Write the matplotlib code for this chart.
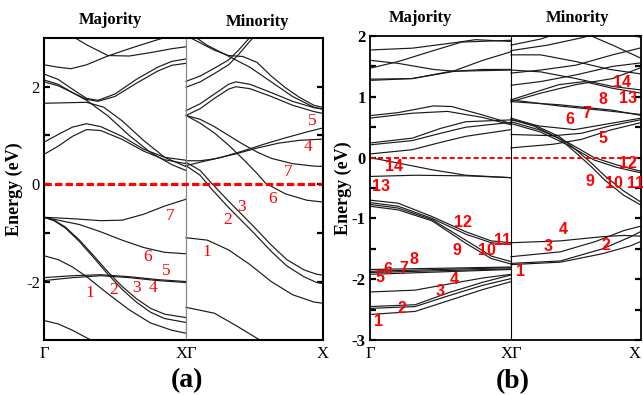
import matplotlib
matplotlib.use('Agg')
import numpy as np
import matplotlib.pyplot as plt
from matplotlib.ticker import FixedLocator

SERIF = ['Liberation Serif', 'DejaVu Serif']
SANS = ['Liberation Sans', 'DejaVu Sans']

# ---------------- panel (a) ----------------
# majority spin, k from Gamma (0) to X (1)
a_maj_cond = [
    ([0.15, 0.22, 0.3, 0.45, 0.6, 0.75, 0.9, 1.0], [3.3, 3.0, 2.86, 2.64, 2.63, 2.7, 2.78, 2.82]),
    ([0, 0.1, 0.19, 0.3, 0.44, 0.6, 0.75, 0.84, 0.9], [2.45, 2.40, 2.37, 2.45, 2.62, 2.78, 2.92, 3.0, 3.05]),
    ([0, 0.1, 0.2, 0.3, 0.38, 0.5, 0.65, 0.8, 0.9, 1.0], [2.26, 2.15, 1.95, 1.76, 1.72, 1.85, 2.15, 2.40, 2.52, 2.57]),
    ([0, 0.1, 0.2, 0.3, 0.38, 0.5, 0.65, 0.8, 0.9, 1.0], [2.14, 2.05, 1.88, 1.74, 1.70, 1.80, 2.07, 2.32, 2.44, 2.48]),
    ([0, 0.1, 0.2, 0.3, 0.45, 0.6, 0.75, 0.9, 1.0], [2.10, 2.02, 1.88, 1.72, 1.40, 1.00, 0.65, 0.40, 0.28]),
    ([0, 0.15, 0.3, 0.42, 0.55, 0.7, 0.85, 1.0], [1.66, 1.67, 1.68, 1.58, 1.30, 0.90, 0.55, 0.36]),
    ([0, 0.1, 0.2, 0.3, 0.4, 0.55, 0.7, 0.85, 1.0], [0.86, 1.02, 1.17, 1.24, 1.18, 0.98, 0.72, 0.55, 0.49]),
    ([0, 0.1, 0.2, 0.3, 0.4, 0.55, 0.7, 0.85, 1.0], [0.61, 0.78, 0.98, 1.12, 1.10, 0.92, 0.68, 0.50, 0.42]),
]
a_maj_val = [
    ([0, 0.2, 0.4, 0.55, 0.7, 0.85, 1.0], [-0.68, -0.71, -0.75, -0.74, -0.62, -0.45, -0.31]),
    ([0, 0.1, 0.25, 0.4, 0.55, 0.7, 0.85, 1.0], [-0.68, -0.74, -0.83, -0.98, -1.15, -1.30, -1.40, -1.43]),
    ([0, 0.07, 0.15, 0.25, 0.35, 0.45, 0.55, 0.65, 0.75, 0.85, 1.0],
     [-0.68, -0.74, -0.88, -1.15, -1.47, -1.80, -2.10, -2.35, -2.55, -2.67, -2.74]),
    ([0, 0.07, 0.15, 0.25, 0.35, 0.45, 0.55, 0.65, 0.75, 0.85, 1.0],
     [-0.68, -0.75, -0.90, -1.18, -1.51, -1.85, -2.16, -2.42, -2.63, -2.76, -2.84]),
    ([0, 0.1, 0.2, 0.3, 0.45, 0.6, 0.75, 0.9, 1.0], [-1.47, -1.55, -1.70, -1.90, -2.25, -2.58, -2.85, -3.0, -3.06]),
    ([0, 0.2, 0.4, 0.6, 0.8, 1.0], [-1.92, -1.88, -1.86, -1.90, -1.96, -2.00]),
    ([0, 0.2, 0.4, 0.6, 0.8, 1.0], [-1.98, -1.92, -1.88, -1.92, -1.98, -2.02]),
    ([0, 0.1, 0.2, 0.33], [-2.80, -2.87, -3.0, -3.2]),
]
# minority spin
a_min_cond = [
    ([0, 0.1, 0.2, 0.3, 0.37, 0.44, 0.5], [2.11, 2.22, 2.38, 2.55, 2.75, 2.98, 3.2]),
    ([0, 0.1, 0.2, 0.3, 0.37, 0.44, 0.5], [1.99, 2.10, 2.27, 2.45, 2.66, 2.90, 3.1]),
    ([0, 0.1, 0.2, 0.3, 0.4, 0.5, 0.6, 0.7, 0.8, 0.9, 1.0], [3.05, 2.90, 2.75, 2.64, 2.62, 2.50, 2.22, 1.98, 1.78, 1.62, 1.55]),
    ([0.05, 0.15, 0.25, 0.35, 0.45, 0.6, 0.75, 0.9, 1.0], [3.05, 2.85, 2.70, 2.55, 2.40, 2.10, 1.80, 1.58, 1.52]),
    ([0, 0.1, 0.2, 0.3, 0.35, 0.45, 0.6, 0.75, 0.9, 1.0], [1.51, 1.65, 1.85, 2.05, 2.10, 2.05, 1.88, 1.70, 1.57, 1.52]),
    ([0, 0.1, 0.2, 0.3, 0.35, 0.45, 0.6, 0.75, 0.9, 1.0], [1.41, 1.55, 1.76, 1.95, 2.00, 1.96, 1.80, 1.62, 1.49, 1.43]),
    ([0, 0.1, 0.25, 0.4, 0.55, 0.7, 0.85, 1.0], [0.38, 0.45, 0.55, 0.68, 0.82, 0.95, 1.07, 1.18]),
    ([0, 0.1, 0.2, 0.35, 0.5, 0.65, 0.8, 1.0], [0.48, 0.48, 0.52, 0.62, 0.74, 0.84, 0.90, 0.93]),
    ([0, 0.1, 0.2, 0.3, 0.4, 0.5, 0.6, 0.75, 0.9, 1.0], [1.41, 1.33, 1.18, 1.00, 0.82, 0.66, 0.53, 0.42, 0.37, 0.36]),
    ([0, 0.1, 0.2, 0.3, 0.4, 0.5, 0.56, 0.7, 0.85, 1.0], [1.41, 1.25, 1.05, 0.80, 0.52, 0.22, 0.02, -0.20, -0.33, -0.38]),
]
a_min_val = [
    ([0, 0.1, 0.18, 0.3, 0.47, 0.6, 0.71, 0.83, 0.92, 1.0], [0.45, 0.28, 0.02, -0.35, -0.85, -1.25, -1.55, -1.76, -1.85, -1.88]),
    ([0, 0.1, 0.18, 0.3, 0.47, 0.6, 0.71, 0.83, 0.92, 1.0], [0.38, 0.18, -0.10, -0.48, -0.98, -1.38, -1.68, -1.90, -2.02, -2.06]),
    ([0, 0.15, 0.3, 0.45, 0.6, 0.75, 0.9, 1.0], [-1.10, -1.15, -1.35, -1.65, -2.00, -2.27, -2.42, -2.46]),
    ([0, 0.2, 0.35, 0.52], [-2.53, -2.65, -2.90, -3.2]),
]
a_maj_tags = ['1', '2', '3', '4', '5', '6', '7']
a_maj_tag_k = [0.32, 0.49, 0.65, 0.77, 0.86, 0.73, 0.89]
a_maj_tag_e = [-2.23, -2.17, -2.13, -2.13, -1.78, -1.50, -0.66]
a_min_tags = ['1', '2', '3', '4', '5', '6', '7']
a_min_tag_k = [0.15, 0.29, 0.39, 0.86, 0.89, 0.61, 0.72]
a_min_tag_e = [-1.39, -0.74, -0.47, 0.76, 1.29, -0.31, 0.25]

# ---------------- panel (b) ----------------
b_maj_cond = [
    ([0, 0.3, 0.6, 0.75, 1.0], [1.77, 1.80, 1.89, 1.94, 1.91]),
    ([0, 0.2, 0.45, 0.6, 1.0], [1.60, 1.55, 1.45, 1.42, 1.44]),
    ([0, 0.2, 0.45, 0.65, 1.0], [1.47, 1.58, 1.76, 1.90, 1.93]),
    ([0, 0.3, 0.6, 0.8, 1.0], [1.29, 1.30, 1.43, 1.60, 1.74]),
    ([0, 0.3, 0.6, 0.8, 1.0], [1.27, 1.30, 1.42, 1.45, 1.45]),
    ([0, 0.2, 0.45, 0.58, 0.8, 1.0], [0.69, 0.74, 0.85, 0.84, 0.70, 0.56]),
    ([0, 0.3, 0.55, 0.8, 1.0], [0.65, 0.73, 0.76, 0.66, 0.54]),
    ([0, 0.3, 0.5, 0.68, 1.0], [0.24, 0.32, 0.48, 0.59, 0.62]),
    ([0, 0.3, 0.5, 0.68, 1.0], [0.21, 0.28, 0.40, 0.50, 0.58]),
    ([0, 0.3, 0.5, 0.68, 1.0], [0.06, 0.13, 0.25, 0.35, 0.46]),
]
b_maj_val = [
    ([0, 0.2, 0.44, 0.68, 1.0], [0.0, -0.09, -0.20, -0.29, -0.33]),
    ([0, 0.32, 0.68, 1.0], [-0.31, -0.29, -0.30, -0.33]),
    ([0, 0.2, 0.44, 0.68, 0.86, 1.0], [-0.70, -0.75, -0.97, -1.22, -1.37, -1.40]),
    ([0, 0.2, 0.44, 0.68, 0.86, 1.0], [-0.74, -0.80, -1.00, -1.26, -1.40, -1.43]),
    ([0, 0.2, 0.44, 0.68, 0.86, 1.0], [-0.77, -0.83, -1.02, -1.36, -1.62, -1.71]),
    ([0, 0.2, 0.44, 0.68, 0.86, 1.0], [-0.80, -0.86, -1.04, -1.41, -1.66, -1.75]),
    ([0, 0.5, 1.0], [-1.84, -1.82, -1.80]),
    ([0, 0.5, 1.0], [-1.87, -1.84, -1.81]),
    ([0, 0.5, 1.0], [-1.89, -1.86, -1.83]),
    ([0, 0.5, 1.0], [-1.92, -1.88, -1.84]),
    ([0, 0.32, 0.58, 0.8, 1.0], [-2.21, -2.18, -2.07, -1.98, -1.92]),
    ([0, 0.32, 0.56, 0.8, 1.0], [-2.45, -2.42, -2.22, -2.05, -1.93]),
    ([0, 0.32, 0.56, 0.8, 1.0], [-2.48, -2.45, -2.27, -2.10, -1.99]),
    ([0, 0.32, 0.56, 0.8, 1.0], [-2.58, -2.53, -2.35, -2.17, -2.04]),
]
b_min_cond = [
    ([0, 0.21, 0.34], [1.85, 1.95, 2.05]),
    ([0, 0.26, 0.52, 0.6], [1.76, 1.85, 1.98, 2.05]),
    ([0, 0.21, 0.46, 0.7, 1.0], [1.69, 1.69, 1.58, 1.45, 1.35]),
    ([0.52, 0.72, 0.87, 1.0], [2.05, 1.85, 1.69, 1.55]),
    ([0.85, 1.0], [2.05, 1.88]),
    ([0, 0.21, 0.46, 0.72, 1.0], [1.44, 1.41, 1.30, 1.17, 1.09]),
    ([0, 0.21, 0.46, 0.72, 1.0], [1.39, 1.44, 1.52, 1.69, 1.85]),
    ([0, 0.21, 0.46, 0.72, 1.0], [1.19, 1.25, 1.36, 1.50, 1.58]),
    ([0, 0.34, 0.52, 0.72, 1.0], [0.95, 1.20, 1.25, 1.14, 1.03]),
    ([0, 0.21, 0.46, 0.72, 1.0], [0.92, 1.06, 1.20, 1.30, 1.55]),
    ([0, 0.34, 0.72, 1.0], [0.95, 0.85, 0.76, 0.69]),
    ([0, 0.34, 0.72, 1.0], [0.92, 0.87, 0.78, 0.66]),
    ([0, 0.2, 0.45, 0.7, 1.0], [0.62, 0.52, 0.46, 0.56, 0.68]),
    ([0, 0.3, 0.5, 0.7, 1.0], [0.38, 0.36, 0.40, 0.52, 0.66]),
    ([0, 0.3, 0.5, 0.7, 1.0], [0.16, 0.22, 0.30, 0.45, 0.62]),
]
b_min_val = [
    ([0, 0.21, 0.41, 0.59, 0.75, 0.88, 1.0], [0.59, 0.45, 0.24, 0.0, -0.12, -0.20, -0.27]),
    ([0, 0.21, 0.41, 0.59, 0.75, 0.88, 1.0], [0.56, 0.42, 0.20, -0.04, -0.16, -0.23, -0.28]),
    ([0, 0.16, 0.34, 0.46, 0.57, 0.67, 0.8, 0.92, 1.0], [0.65, 0.54, 0.35, 0.13, -0.09, -0.31, -0.55, -0.73, -0.78]),
    ([0, 0.16, 0.34, 0.46, 0.57, 0.67, 0.8, 0.92, 1.0], [0.63, 0.52, 0.32, 0.08, -0.15, -0.38, -0.62, -0.78, -0.82]),
    ([0, 0.35, 0.65, 0.8, 1.0], [-1.40, -1.37, -1.30, -1.28, -1.30]),
    ([0, 0.35, 0.6, 0.8, 1.0], [-1.63, -1.55, -1.38, -1.20, -1.08]),
    ([0, 0.35, 0.65, 0.85, 1.0], [-1.74, -1.70, -1.50, -1.30, -1.12]),
    ([0, 0.35, 0.65, 0.85, 1.0], [-1.76, -1.72, -1.58, -1.45, -1.30]),
]
b_maj_tags = ['1', '2', '3', '4', '5', '6', '7', '8', '9', '10', '11', '12', '13', '14']
b_maj_tag_k = [0.06, 0.23, 0.50, 0.60, 0.07, 0.13, 0.24, 0.31, 0.62, 0.83, 0.94, 0.66, 0.08, 0.17]
b_maj_tag_e = [-2.70, -2.49, -2.21, -2.00, -1.97, -1.84, -1.83, -1.67, -1.52, -1.52, -1.37, -1.06, -0.47, -0.15]
b_min_tags = ['1', '2', '3', '4', '5', '6', '7', '8', '9', '10', '11', '12', '13', '14']
b_min_tag_k = [0.07, 0.67, 0.26, 0.37, 0.65, 0.42, 0.54, 0.65, 0.56, 0.73, 0.88, 0.83, 0.83, 0.79]
b_min_tag_e = [-1.88, -1.44, -1.46, -1.19, 0.32, 0.63, 0.73, 0.95, -0.40, -0.42, -0.42, -0.09, 0.98, 1.23]


fig = plt.figure(figsize=(6.43, 3.95), dpi=100)
W, H = 643.0, 395.0


def draw_bands(ax, maj, mino):
    for k, e in maj:
        ax.plot(k, e, color='#1a1a1a', lw=0.85)
    for k, e in mino:
        ax.plot(np.array(k) + 1.0, e, color='#1a1a1a', lw=0.85)


def draw_tags(ax, tags, ks, es, offset, fam, fs, fw='normal'):
    for t, k, e in zip(tags, ks, es):
        ax.text(k + offset, e, t, color='red', fontsize=fs, family=fam,
                fontweight=fw, ha='center', va='center')


# panel (a)
axa = fig.add_axes([44 / W, 1 - 340 / H, (323 - 44) / W, (340 - 38) / H])
draw_bands(axa, a_maj_cond + a_maj_val, a_min_cond + a_min_val)
xa_end = 1 + 137 / 142
axa.set_xlim(0, xa_end)
axa.set_ylim(-3.2, 3.0)
axa.axvline(1.0, color='#888888', lw=0.9)
axa.axhline(0, color='red', lw=2.3, linestyle=(0, (2.3, 1.0)))
draw_tags(axa, a_maj_tags, a_maj_tag_k, a_maj_tag_e, 0.0, SERIF, 12.5)
draw_tags(axa, a_min_tags, a_min_tag_k, a_min_tag_e, 1.0, SERIF, 12.5)
axa.set_yticks([-2, 0, 2])
axa.set_yticklabels(['-2', '0', '2'], family=SERIF, fontsize=12)
axa.yaxis.set_minor_locator(FixedLocator([-1, 1]))
axa.set_xticks([0, 1, xa_end])
axa.set_xticklabels(['Γ', 'XΓ', 'X'], family=SERIF, fontsize=12)
axa.tick_params(axis='y', which='both', direction='in', right=True, length=4, width=1.6, pad=3)
axa.tick_params(axis='x', length=0, pad=4)
for s in axa.spines.values():
    s.set_linewidth(1.5)
axa.set_ylabel('Energy (eV)', family=SERIF, fontweight='bold', fontsize=13, labelpad=2)
fig.text(110 / W, 1 - 20 / H, 'Majority', ha='center', va='center', family=SERIF, fontweight='bold', fontsize=12)
fig.text(258 / W, 1 - 22 / H, 'Minority', ha='center', va='center', family=SERIF, fontweight='bold', fontsize=12)
fig.text(187 / W, 1 - 381 / H, '(a)', ha='center', va='center', family=SERIF, fontweight='bold', fontsize=20)

# panel (b)
axb = fig.add_axes([370 / W, 1 - 340 / H, (641 - 370) / W, (340 - 36) / H])
draw_bands(axb, b_maj_cond + b_maj_val, b_min_cond + b_min_val)
xb_end = 1 + 130 / 141
axb.set_xlim(0, xb_end)
axb.set_ylim(-3, 2)
axb.axvline(1.0, color='black', lw=0.8)
axb.axhline(0, color='red', lw=1.4, linestyle=(0, (2.6, 1.5)))
draw_tags(axb, b_maj_tags, b_maj_tag_k, b_maj_tag_e, 0.0, SANS, 11.5, 'bold')
draw_tags(axb, b_min_tags, b_min_tag_k, b_min_tag_e, 1.0, SANS, 11.5, 'bold')
axb.set_yticks([-3, -2, -1, 0, 1, 2])
axb.set_yticklabels(['-3', '-2', '-1', '0', '1', '2'], family=SERIF, fontsize=12, fontweight='bold')
axb.yaxis.set_minor_locator(FixedLocator([-2.5, -1.5, -0.5, 0.5, 1.5]))
axb.set_xticks([0, 1, xb_end])
axb.set_xticklabels(['Γ', 'XΓ', 'X'], family=SERIF, fontsize=12)
axb.get_xticklabels()[-1].set_horizontalalignment('right')
axb.tick_params(axis='y', which='both', direction='in', right=True, length=4, width=1.6, pad=3)
axb.tick_params(axis='x', length=0, pad=4)
for s in axb.spines.values():
    s.set_linewidth(1.3)
axb.set_ylabel('Energy (eV)', family=SERIF, fontweight='bold', fontsize=13, labelpad=0)
fig.text(420 / W, 1 - 18 / H, 'Majority', ha='center', va='center', family=SERIF, fontweight='bold', fontsize=12)
fig.text(578 / W, 1 - 18 / H, 'Minority', ha='center', va='center', family=SERIF, fontweight='bold', fontsize=12)
fig.text(513 / W, 1 - 382 / H, '(b)', ha='center', va='center', family=SERIF, fontweight='bold', fontsize=20)

fig.savefig('out.png', dpi=100)
